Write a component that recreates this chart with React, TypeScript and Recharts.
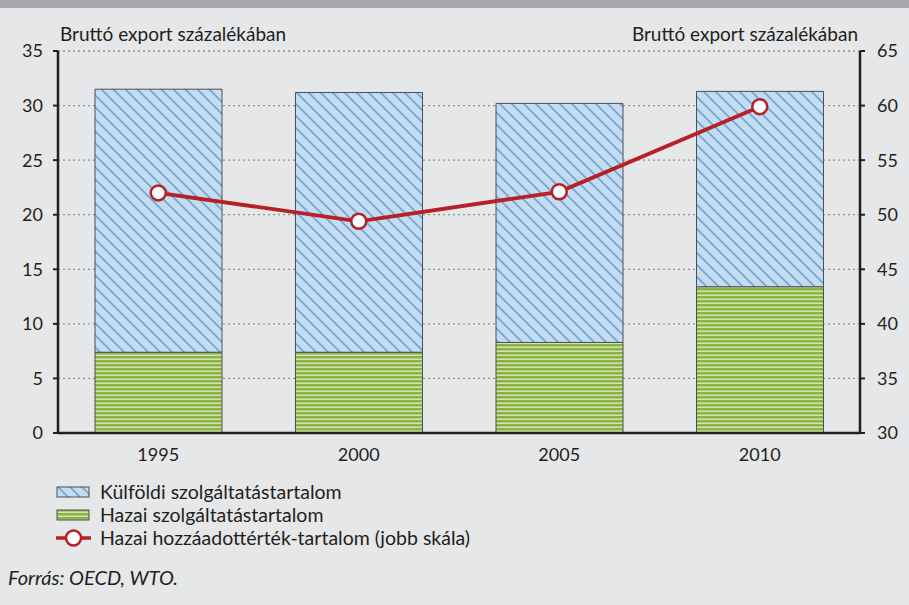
import React from 'react';
import { ComposedChart, Bar, Line, XAxis, YAxis, Legend } from 'recharts';

const years = ['1995', '2000', '2005', '2010'];
const foreignServices = [24.1, 23.8, 21.9, 17.9];
const domesticServices = [7.4, 7.4, 8.3, 13.4];
const domesticValueAdded = [52.0, 49.4, 52.1, 59.9];
const leftTicks = [0, 5, 10, 15, 20, 25, 30, 35];
const rightTicks = [30, 35, 40, 45, 50, 55, 60, 65];
const gridTicks = [5, 10, 15, 20, 25, 30, 35];
const boundaryTicks = [-0.5, 0.5, 1.5, 2.5, 3.5];

const axisTitle = 'Bruttó export százalékában';
const seriesNames = {
  foreign: 'Külföldi szolgáltatástartalom',
  domestic: 'Hazai szolgáltatástartalom',
  valueAdded: 'Hazai hozzáadottérték-tartalom (jobb skála)',
};
const sourceNote = 'Forrás: OECD, WTO.';

const data = years.map((year, i) => ({
  year,
  pos: i,
  foreign: foreignServices[i],
  domestic: domesticServices[i],
  valueAdded: domesticValueAdded[i],
}));

const FONT = 'Lato, "Open Sans", sans-serif';
const AXIS = '#231f20';
const TEXT = '#231f20';
const RED = '#b72025';
const BORDER = '#4d4f52';
const GRID = '#8f9193';
const MARGIN = { top: 51, right: 1, bottom: 131, left: 8 };
const PLOT_WIDTH = 802;

const tickStyle = { fontSize: 18, fill: TEXT, fontFamily: FONT };
const NoTick = () => null;

const LeftTitle = (props: any) => {
  const vb = props.viewBox || { x: 8, y: 51, width: 50 };
  return (
    <text x={vb.x + vb.width + 2} y={vb.y - 10} fontSize={19} fill={TEXT} fontFamily={FONT}>
      {axisTitle}
    </text>
  );
};
const RightTitle = (props: any) => {
  const vb = props.viewBox || { x: 860, y: 51, width: 48 };
  return (
    <text x={vb.x - 2} y={vb.y - 10} fontSize={19} fill={TEXT} fontFamily={FONT} textAnchor="end">
      {axisTitle}
    </text>
  );
};

const LegendContent = () => {
  const rows = [
    { key: 'foreign', label: seriesNames.foreign },
    { key: 'domestic', label: seriesNames.domestic },
    { key: 'valueAdded', label: seriesNames.valueAdded },
  ];
  return (
    <svg width={620} height={84} style={{ display: 'block', overflow: 'visible' }}>
      {rows.map((r, i) => {
        const cy = 15 + i * 23;
        return (
          <g key={r.key}>
            {r.key === 'foreign' && (
              <rect x={57} y={cy - 5} width={32} height={10} fill="url(#hatchBlue)" stroke={BORDER} strokeWidth={1} />
            )}
            {r.key === 'domestic' && (
              <rect x={57} y={cy - 5} width={32} height={10} fill="url(#stripeGreen)" stroke={BORDER} strokeWidth={1} />
            )}
            {r.key === 'valueAdded' && (
              <g>
                <line x1={56} x2={91} y1={cy} y2={cy} stroke={RED} strokeWidth={3.5} />
                <circle cx={73.5} cy={cy} r={7.5} fill="#fff" stroke={RED} strokeWidth={2.5} />
              </g>
            )}
            <text x={100} y={cy + 6.5} fontSize={19.5} fill={TEXT} fontFamily={FONT}>
              {r.label}
            </text>
          </g>
        );
      })}
    </svg>
  );
};

export default function App() {
  return (
    <div
      style={{
        position: 'absolute',
        left: 0,
        top: 0,
        width: 909,
        height: 605,
        background: '#e6e7e8',
        fontFamily: FONT,
        overflow: 'hidden',
      }}
    >
      <div style={{ position: 'absolute', left: 0, top: 0, width: 909, height: 8, background: '#a7a9ac' }} />

      {/* background layer: dotted horizontal gridlines drawn as inward tick lines */}
      <div style={{ position: 'absolute', left: 0, top: 0 }}>
        <ComposedChart width={909} height={605} data={data} margin={MARGIN}>
          <XAxis xAxisId="b_cat" dataKey="year" height={41} axisLine={false} tickLine={false} tick={NoTick} />
          <YAxis
            yAxisId="left"
            domain={[0, 35]}
            ticks={gridTicks}
            width={50}
            axisLine={false}
            tickSize={-PLOT_WIDTH}
            tickMargin={0}
            tick={NoTick}
            tickLine={{ stroke: GRID, strokeWidth: 1.3, strokeDasharray: '2 3' }}
          />
          <YAxis
            yAxisId="right"
            orientation="right"
            domain={[30, 65]}
            ticks={rightTicks}
            width={48}
            axisLine={false}
            tickLine={false}
            tick={NoTick}
          />
          <Bar xAxisId="b_cat" yAxisId="left" dataKey="domestic" fill="none" isAnimationActive={false} />
        </ComposedChart>
      </div>

      {/* foreground layer: bars, line, axes, legend */}
      <div style={{ position: 'absolute', left: 0, top: 0 }}>
        <ComposedChart width={909} height={605} data={data} margin={MARGIN}>
          <defs>
            <pattern id="hatchBlue" patternUnits="userSpaceOnUse" width={12} height={12}>
              <rect x={0} y={0} width={12} height={12} fill="#c5dbf0" />
              <path d="M-3,-3 L15,15 M-9,3 L3,15 M9,-3 L21,9" stroke="#6aa7d6" strokeWidth={1.6} />
            </pattern>
            <pattern id="stripeGreen" patternUnits="userSpaceOnUse" width={8} height={4}>
              <rect x={0} y={0} width={8} height={4} fill="#8bb344" />
              <rect x={0} y={2.5} width={8} height={1.5} fill="#d3e4b3" />
            </pattern>
          </defs>
          <XAxis
            xAxisId="a_edges"
            type="number"
            dataKey="pos"
            domain={[-0.5, 3.5]}
            ticks={boundaryTicks}
            allowDataOverflow
            tick={false}
            tickSize={5}
            height={1}
            axisLine={{ stroke: AXIS, strokeWidth: 2.5 }}
            tickLine={{ stroke: AXIS, strokeWidth: 2 }}
          />
          <XAxis
            xAxisId="b_cat"
            dataKey="year"
            axisLine={false}
            tickLine={false}
            tickMargin={8}
            height={40}
            tick={tickStyle}
          />
          <YAxis
            yAxisId="left"
            domain={[0, 35]}
            ticks={leftTicks}
            width={50}
            tickSize={5}
            tickMargin={10}
            tick={tickStyle}
            axisLine={{ stroke: AXIS, strokeWidth: 2.5 }}
            tickLine={{ stroke: AXIS, strokeWidth: 2 }}
            label={{ content: LeftTitle }}
          />
          <YAxis
            yAxisId="right"
            orientation="right"
            domain={[30, 65]}
            ticks={rightTicks}
            width={48}
            tickSize={5}
            tickMargin={12}
            tick={tickStyle}
            axisLine={{ stroke: AXIS, strokeWidth: 2.5 }}
            tickLine={{ stroke: AXIS, strokeWidth: 2 }}
            label={{ content: RightTitle }}
          />
          <Bar
            xAxisId="b_cat"
            yAxisId="left"
            dataKey="domestic"
            name={seriesNames.domestic}
            stackId="s"
            barSize={127}
            fill="url(#stripeGreen)"
            stroke={BORDER}
            strokeWidth={1}
            isAnimationActive={false}
          />
          <Bar
            xAxisId="b_cat"
            yAxisId="left"
            dataKey="foreign"
            name={seriesNames.foreign}
            stackId="s"
            barSize={127}
            fill="url(#hatchBlue)"
            stroke={BORDER}
            strokeWidth={1}
            isAnimationActive={false}
          />
          <Line
            xAxisId="b_cat"
            yAxisId="right"
            dataKey="valueAdded"
            name={seriesNames.valueAdded}
            type="linear"
            stroke={RED}
            strokeWidth={3.8}
            dot={{ r: 7.5, fill: '#ffffff', stroke: RED, strokeWidth: 2.5 }}
            activeDot={false}
            isAnimationActive={false}
          />
          <Legend
            layout="horizontal"
            verticalAlign="middle"
            align="center"
            content={LegendContent}
            wrapperStyle={{ position: 'absolute', left: 0, top: 477, width: 620, height: 84 }}
          />
        </ComposedChart>
      </div>

      <div
        style={{
          position: 'absolute',
          left: 8,
          top: 566,
          fontSize: 20,
          fontStyle: 'italic',
          color: TEXT,
          fontFamily: FONT,
          lineHeight: '22px',
        }}
      >
        {sourceNote}
      </div>
    </div>
  );
}
